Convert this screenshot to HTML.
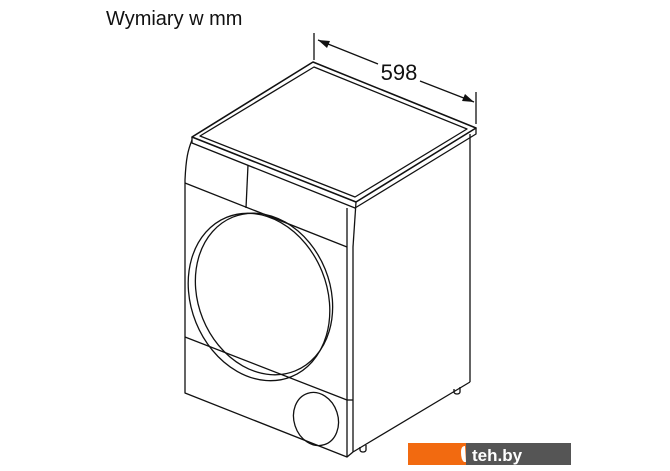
<!DOCTYPE html>
<html><head><style>
html,body{margin:0;padding:0;background:#fff;}
body{width:670px;height:471px;position:relative;overflow:hidden;}
</style></head><body>
<svg width="670" height="471" viewBox="0 0 670 471" xmlns="http://www.w3.org/2000/svg" style="position:absolute;left:0;top:0">
<text x="106" y="25" font-family="Liberation Sans, sans-serif" font-size="20" fill="#111">Wymiary w mm</text>
<g fill="none" stroke="#111" stroke-width="1.3" stroke-linejoin="round">
<!-- dimension -->
<line x1="314" y1="33" x2="314" y2="60"/>
<line x1="476" y1="92" x2="476" y2="124"/>
<line x1="318" y1="40" x2="378" y2="64"/>
<line x1="420" y1="81" x2="474" y2="102"/>
<!-- top panel -->
<polygon points="313,62 476,128 356,202 192,137" stroke-width="1.6"/>
<polygon points="314,67 467,129 355,197 200,136"/>
<polyline points="192,137 192,143 355,208 476,134 476,128"/>
<!-- front -->
<path d="M192,140 C188,150 186,158 185,180 L185,393 L347,457 L347,208"/>
<line x1="356" y1="202" x2="353" y2="247"/>
<line x1="353" y1="247" x2="353" y2="452"/>
<line x1="185" y1="183" x2="347" y2="247"/>
<line x1="248" y1="165" x2="246" y2="208"/>
<!-- side -->
<line x1="470" y1="134" x2="470" y2="382"/>
<line x1="353" y1="452" x2="470" y2="382"/>
<line x1="347" y1="457" x2="353" y2="452"/>
<!-- base -->
<line x1="185" y1="337" x2="347" y2="400"/>
<line x1="347" y1="400" x2="353" y2="400"/>
<!-- door -->
<ellipse cx="259" cy="297" rx="68" ry="86" transform="rotate(-22 259 297)"/>
<ellipse cx="264" cy="294" rx="66" ry="83" transform="rotate(-22 264 294)"/>
<ellipse cx="316" cy="419" rx="22" ry="27" transform="rotate(-18 316 419)"/>
<!-- feet -->
<path d="M454,389 v3 a3,2 0 0 0 6,0 v-5"/>
<path d="M360,447 v3 a3,2 0 0 0 6,0 v-5"/>
</g>
<text x="399" y="80" font-family="Liberation Sans, sans-serif" font-size="22" fill="#111" text-anchor="middle">598</text>
<polygon points="318,40 330,41 327,48" fill="#111"/>
<polygon points="474,102 462,101 465,94" fill="#111"/>
<rect x="408" y="443" width="58" height="22" fill="#f26a10"/>
<rect x="466" y="443" width="105" height="22" fill="#555"/>
<path d="M465,446 q-4,0 -4,6 q0,8 3,10 h2 z" fill="#fff"/>
<text x="472" y="461" font-family="Liberation Sans, sans-serif" font-size="17" font-weight="bold" fill="#fff">teh.by</text>
</svg>
</body></html>
